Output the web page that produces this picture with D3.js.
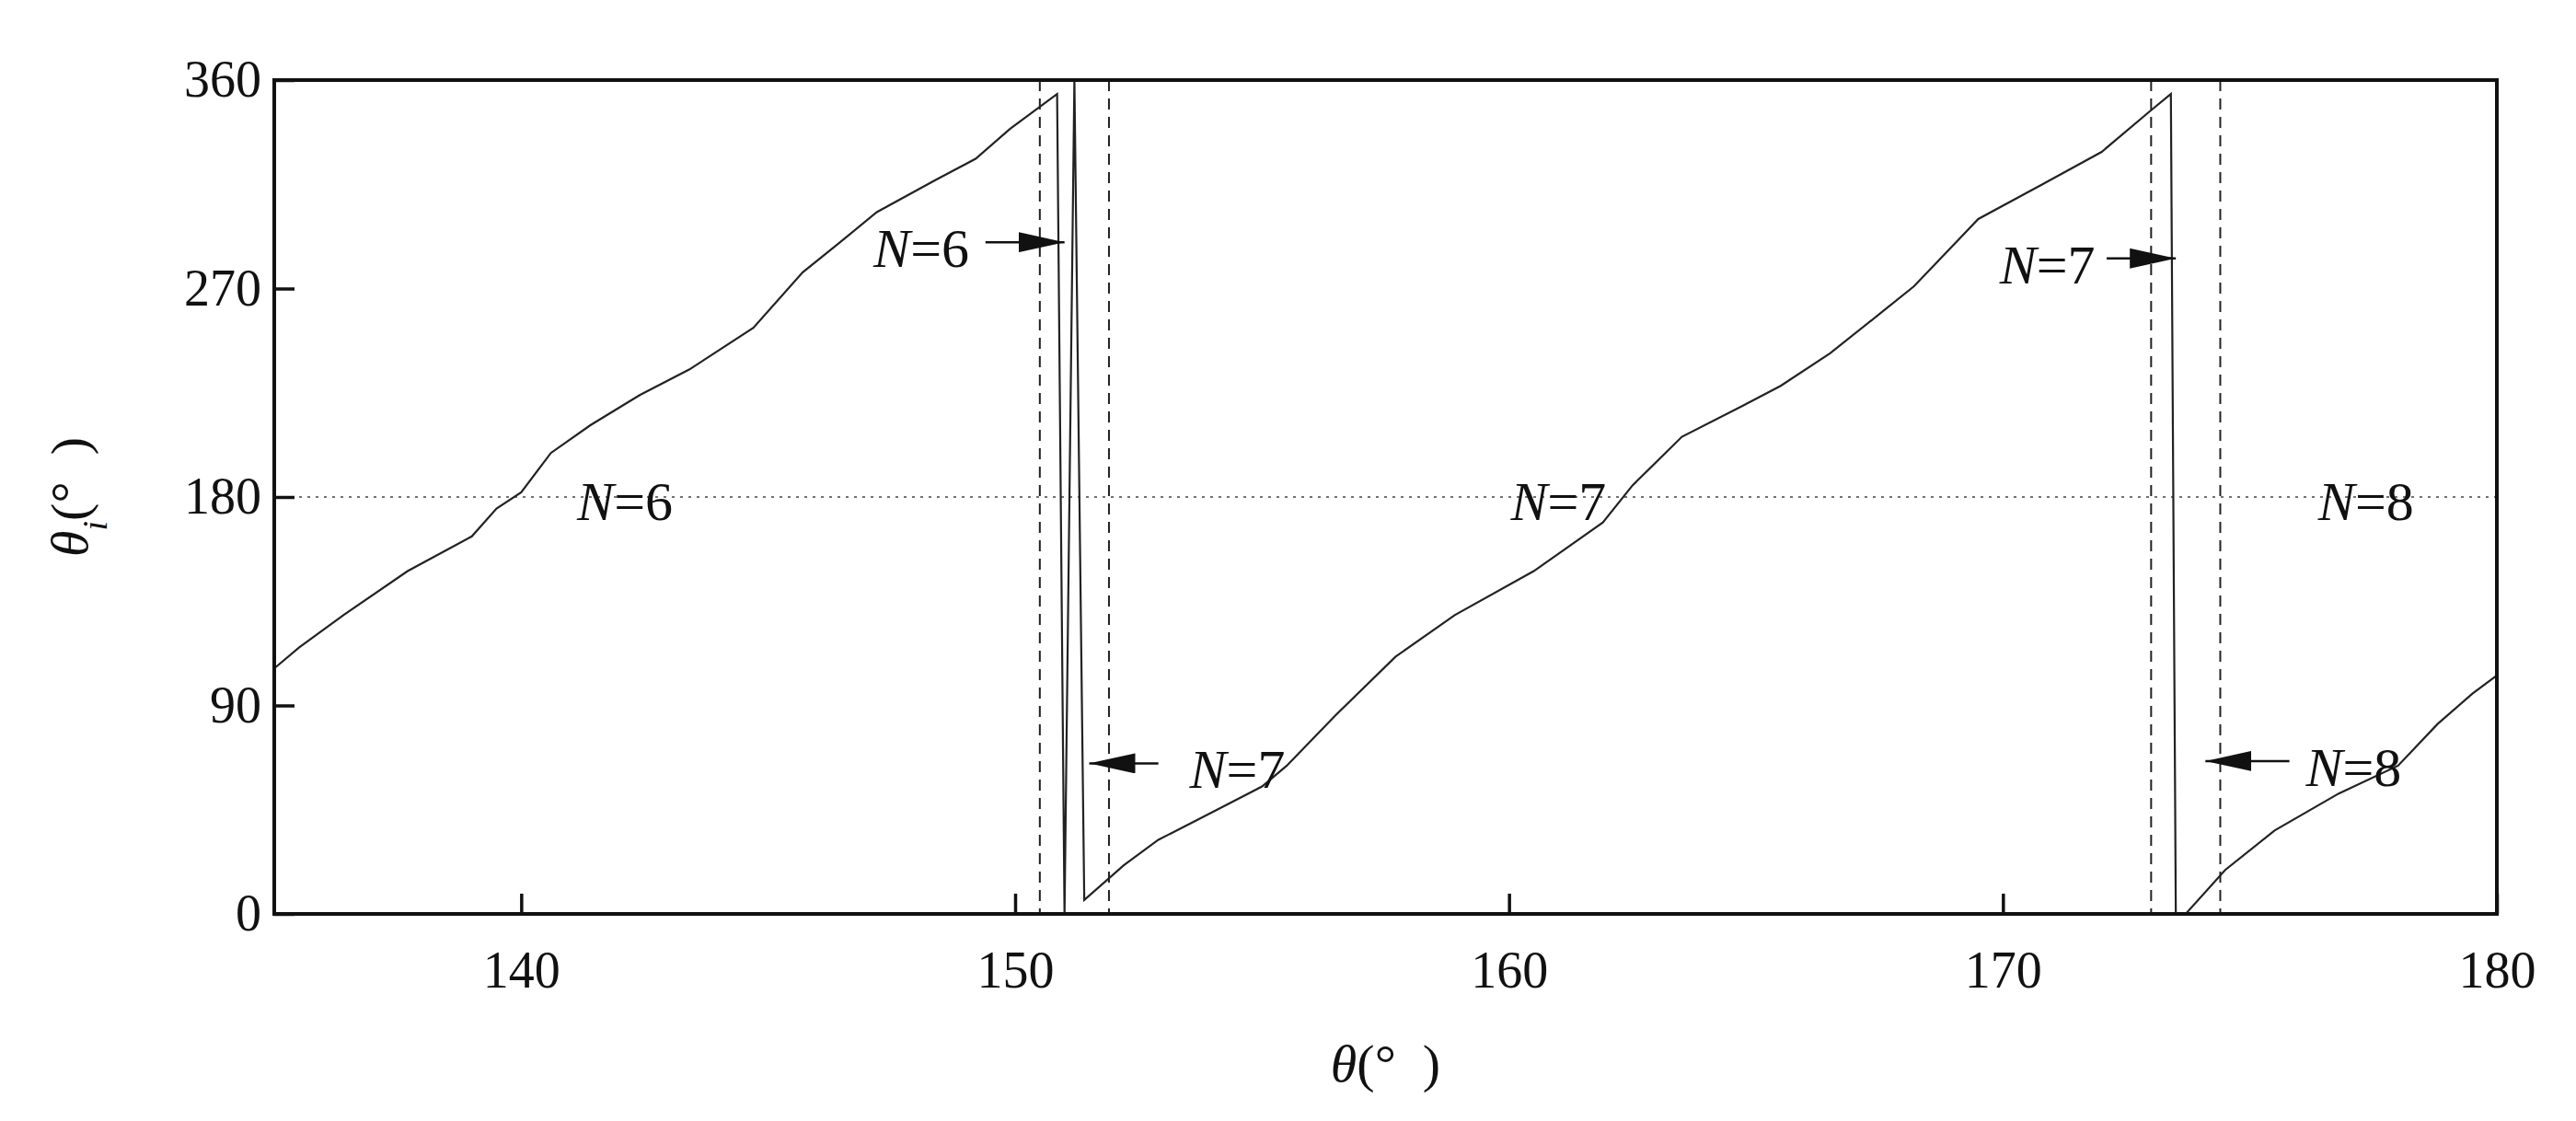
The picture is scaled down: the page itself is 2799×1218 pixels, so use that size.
<!DOCTYPE html>
<html>
<head>
<meta charset="utf-8">
<script src="https://cdn.jsdelivr.net/npm/d3@7"></script>
<style>
  body { margin: 0; background: #fff; }
  text { font-family: "Liberation Serif", "Times New Roman", serif; fill: #111; }
</style>
</head>
<body>
<script>
// data
var thetaVals = [135, 135.5, 136.4, 137.7, 139, 139.5, 140, 140.6, 141.4, 142.4, 143.4, 144.7, 145.7, 146.4, 147.2, 148.4, 149.2, 149.9, 150.85,
                 151.0, 151.2, 151.4,
                 152.2, 152.9, 154, 155, 155.5, 156.5, 157.7, 158.9, 160.5, 161.9, 162.5, 163.5, 164.7, 165.5, 166.5, 167.5, 168.2, 169.5, 170.8, 172, 173, 173.4,
                 173.5, 173.7, 174.5, 175.5, 176.8, 178, 178.8, 179.5, 180];
var thetaIVals = [106, 115, 129, 148, 163, 175, 182, 199, 211, 224, 235, 253, 277, 289, 303, 317, 326, 339, 354,
                  0, 360, 6,
                  21, 32, 44, 55, 64, 86, 111, 129, 148, 169, 185, 206, 219, 228, 242, 259, 271, 300, 315, 329, 347, 354,
                  0, 0, 19, 36, 52, 64, 82, 95, 103];
var xTicks = [140, 150, 160, 170, 180];
var yTicks = [0, 90, 180, 270, 360];
var dashedX = [150.5, 151.9, 173.0, 174.4];
var plainLabels = [{x: 142.1, y: 180, t: "6"}, {x: 161.0, y: 180, t: "7"}, {x: 177.35, y: 180, t: "8"}];
// arrows: text centre, arrow tail, arrow tip, height
var arrowLabels = [
  {tx: 148.1, t: "6", x0: 149.4, x1: 151.0, y: 290},
  {tx: 154.5, t: "7", x0: 152.9, x1: 151.5, y: 65},
  {tx: 170.9, t: "7", x0: 172.1, x1: 173.5, y: 283},
  {tx: 177.1, t: "8", x0: 175.8, x1: 174.1, y: 66}
];

var W = 2799, H = 1218;
var mLeft = 298, mRight = 2713, mTop = 87, mBottom = 993;

var svg = d3.select("body").append("svg").attr("width", W).attr("height", H);

var x = d3.scaleLinear().domain([135, 180]).range([mLeft, mRight]);
var y = d3.scaleLinear().domain([0, 360]).range([mBottom, mTop]);

svg.append("defs").append("marker")
  .attr("id", "arr").attr("viewBox", "0 0 10 10").attr("refX", 10).attr("refY", 5)
  .attr("markerWidth", 50).attr("markerHeight", 22).attr("markerUnits", "userSpaceOnUse")
  .attr("orient", "auto").attr("preserveAspectRatio", "none")
  .append("path").attr("d", "M0,0L10,5L0,10Z").attr("fill", "#111");

// dotted 180 line
svg.append("line").attr("x1", mLeft).attr("x2", mRight).attr("y1", y(180)).attr("y2", y(180))
  .attr("stroke", "#444").attr("stroke-width", 1.5).attr("stroke-dasharray", "3,6");

// dashed verticals
svg.selectAll(".vd").data(dashedX).enter().append("line")
  .attr("x1", d => x(d)).attr("x2", d => x(d)).attr("y1", mTop).attr("y2", mBottom)
  .attr("stroke", "#222").attr("stroke-width", 2).attr("stroke-dasharray", "12,8");

// curve
var pts = thetaVals.map((d, i) => [d, thetaIVals[i]]);
svg.append("path").datum(pts)
  .attr("d", d3.line().x(d => x(d[0])).y(d => y(d[1])))
  .attr("fill", "none").attr("stroke", "#222").attr("stroke-width", 2.2);

// axes (inward ticks)
var xa = svg.append("g").attr("transform", "translate(0," + mBottom + ")")
  .call(d3.axisBottom(x).tickValues(xTicks).tickSize(-22).tickPadding(40).tickFormat(d3.format("d")));
var ya = svg.append("g").attr("transform", "translate(" + mLeft + ",0)")
  .call(d3.axisLeft(y).tickValues(yTicks).tickSize(-22).tickPadding(14).tickFormat(d3.format("d")));
[xa, ya].forEach(function(g) {
  g.select(".domain").remove();
  g.selectAll("line").attr("stroke", "#111").attr("stroke-width", 3.5);
  g.selectAll("text").style("font-size", "56px").style("font-family", "Liberation Serif, serif").attr("fill", "#111");
});

// frame
svg.append("rect").attr("x", mLeft).attr("y", mTop).attr("width", mRight - mLeft).attr("height", mBottom - mTop)
  .attr("fill", "none").attr("stroke", "#111").attr("stroke-width", 4);

function nLabel(cx, cy, t) {
  var tx = svg.append("text").attr("x", x(cx)).attr("y", cy).attr("text-anchor", "middle")
    .attr("dy", "0.35em").style("font-size", "60px");
  tx.append("tspan").attr("font-style", "italic").text("N");
  tx.append("tspan").text("=" + t);
}
plainLabels.forEach(d => nLabel(d.x, y(d.y) + 4, d.t));
arrowLabels.forEach(function(d) {
  nLabel(d.tx, y(d.y) + 6, d.t);
  svg.append("line").attr("x1", x(d.x0)).attr("x2", x(d.x1)).attr("y1", y(d.y)).attr("y2", y(d.y))
    .attr("stroke", "#111").attr("stroke-width", 2.5).attr("marker-end", "url(#arr)");
});

// axis titles
var xt = svg.append("text").attr("x", (mLeft + mRight) / 2).attr("y", 1175).attr("text-anchor", "middle")
  .style("font-size", "58px");
xt.append("tspan").attr("font-style", "italic").text("θ");
xt.append("tspan").text("(°\u2002)");

var yt = svg.append("text").attr("transform", "translate(95," + (mTop + mBottom) / 2 + ") rotate(-90)")
  .attr("text-anchor", "middle").style("font-size", "58px");
yt.append("tspan").attr("font-style", "italic").text("θ");
yt.append("tspan").attr("font-style", "italic").attr("baseline-shift", "sub").style("font-size", "38px").text("i");
yt.append("tspan").text("(°\u2002)");
</script>
</body>
</html>
